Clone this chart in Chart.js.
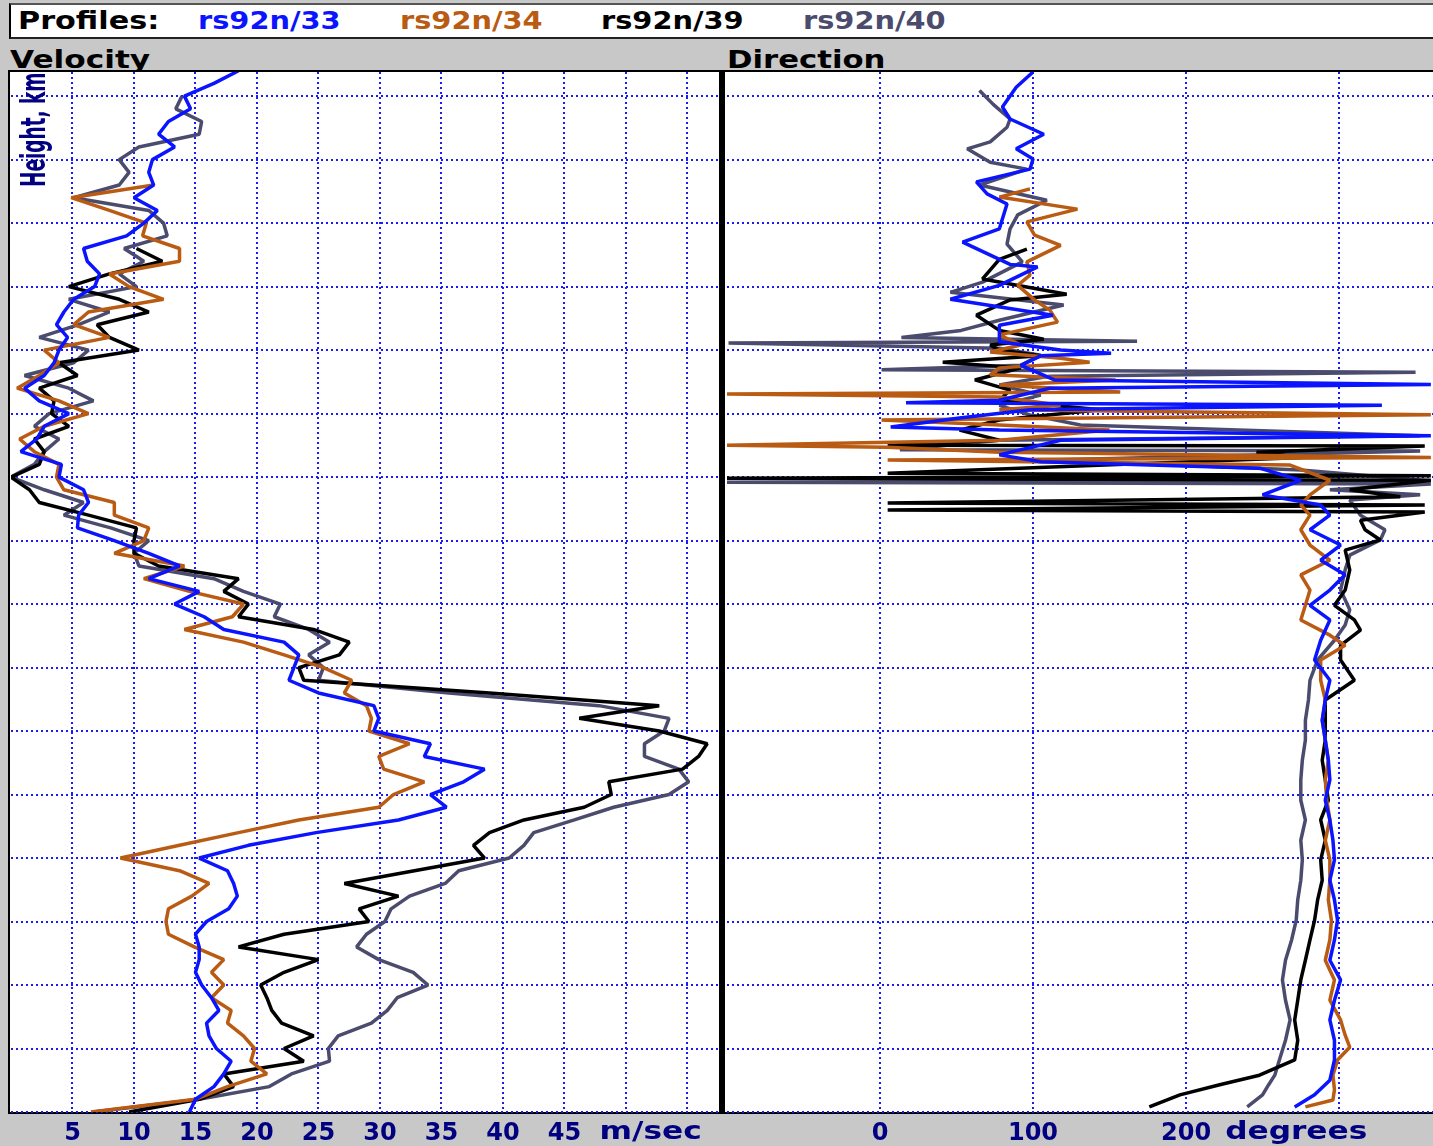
<!DOCTYPE html>
<html>
<head>
<meta charset="utf-8">
<title>Profiles rs92n</title>
<script src="https://cdn.jsdelivr.net/npm/chart.js@4.4.1/dist/chart.umd.min.js"></script>
<style>
  html, body { margin: 0; padding: 0; }
  body {
    width: 1433px; height: 1146px; position: relative; overflow: hidden;
    background: #c8c8c8; font-family: 'DejaVu Sans', sans-serif; font-weight: bold;
  }
  .txt {
    position: absolute; font-size: 24px; line-height: 24px; white-space: nowrap;
    transform-origin: 0 50%;
  }
  #legendBox {
    position: absolute; left: 9px; top: 3px; width: 1430px; height: 32px; background: #fff;
    border-top: 2px solid #555; border-left: 2px solid #000; border-bottom: 2px solid #222;
  }
  #plotFrame {
    position: absolute; left: 8px; top: 70px; width: 1430px; height: 1040px; background: #fff;
    border-top: 2px solid #000; border-left: 2px solid #000; border-bottom: 2px solid #000;
  }
  #divider { position: absolute; left: 719px; top: 72px; width: 6px; height: 1040px; background: #000; }
  canvas { position: absolute; top: 72px; }
</style>
</head>
<body>
<div id="legendBox"></div>
<div class="txt" style="left:18px; top:9px; color:#000; transform:scaleX(1.26)">Profiles:</div>
<div class="txt" style="left:10px; top:48px; color:#000; transform:scaleX(1.3)">Velocity</div>
<div class="txt" style="left:727px; top:48px; color:#000; transform:scaleX(1.28)">Direction</div>
<div id="plotFrame"></div>
<canvas id="velocityChart" width="707" height="1074" style="left:11px"></canvas>
<div id="divider"></div>
<canvas id="directionChart" width="706" height="1074" style="left:727px"></canvas>

<script>
// heights of the velocity samples, km
const heightKm = [
  0.0, 0.2, 0.4, 0.6, 0.8, 1.0, 1.2, 1.4, 1.6, 1.8,
  2.0, 2.2, 2.4, 2.6, 2.8, 3.0, 3.2, 3.4, 3.6, 3.8,
  4.0, 4.2, 4.4, 4.6, 4.8, 5.0, 5.2, 5.4, 5.6, 5.8,
  6.0, 6.2, 6.4, 6.6, 6.8, 7.0, 7.2, 7.4, 7.6, 7.8,
  8.0, 8.2, 8.4, 8.6, 8.8, 9.0, 9.2, 9.4, 9.6, 9.8,
  10.0, 10.2, 10.4, 10.6, 10.8, 11.0, 11.2, 11.4, 11.6, 11.8,
  12.0, 12.2, 12.4, 12.6, 12.8, 13.0, 13.2, 13.4, 13.6, 13.8,
  14.0, 14.2, 14.4, 14.6, 14.8, 15.0, 15.2, 15.4, 15.6, 15.8,
  16.0, 16.2, 16.4
];

// wind speed, m/s (null = above the top of the sounding)
const velocity33 = [
  14.5, 15.0, 16.5, 17.3, 17.9, 16.7, 16.1, 15.9, 16.9, 16.3,
  15.5, 15.0, 15.3, 15.3, 15.0, 15.9, 17.7, 18.4, 18.1, 17.6,
  15.3, 19.3, 24.8, 31.5, 35.4, 34.1, 36.8, 38.5, 33.6, 34.1,
  29.5, 29.9, 29.5, 25.0, 22.6, 23.0, 23.4, 22.2, 17.3, 15.7,
  13.3, 15.3, 11.2, 13.7, 11.2, 8.4, 5.4, 5.5, 6.3, 5.9,
  3.9, 4.1, 0.8, 2.1, 2.7, 4.7, 2.3, 1.1, 2.7, 3.5,
  3.9, 4.6, 3.7, 4.3, 5.1, 6.8, 7.2, 6.2, 5.9, 9.4,
  10.8, 11.9, 10.0, 11.6, 11.2, 11.5, 13.3, 12.0, 12.8, 14.6,
  14.1, 16.5, 18.5
];
const velocity34 = [
  6.5, 15.0, 17.6, 20.8, 19.5, 19.8, 18.9, 17.6, 17.9, 16.3,
  17.3, 16.3, 17.3, 14.9, 12.8, 12.6, 12.8, 14.7, 16.1, 13.7,
  8.9, 13.7, 18.5, 23.4, 29.9, 31.1, 33.6, 30.3, 29.9, 32.4,
  29.1, 29.3, 28.9, 27.1, 27.7, 25.4, 22.2, 18.9, 14.1, 18.0,
  18.9, 14.5, 10.8, 14.1, 8.4, 10.8, 11.2, 8.4, 8.4, 4.3,
  3.7, 3.9, 1.9, 0.7, 2.7, 6.3, 3.9, 0.5, 2.3, 3.9,
  2.7, 8.0, 5.1, 6.3, 12.4, 9.6, 8.0, 13.7, 13.7, 10.7,
  11.0, 8.0, 4.9, 11.6, null, null, null, null, null, null,
  null, null, null
];
const velocity39 = [
  9.6, 15.3, 18.1, 17.3, 23.8, 22.2, 24.6, 22.0, 21.2, 20.8,
  20.3, 22.2, 25.0, 18.5, 22.2, 29.1, 28.3, 31.5, 27.1, 32.8,
  38.5, 37.6, 38.9, 41.7, 46.6, 48.8, 48.6, 54.6, 55.9, 56.6,
  52.7, 46.2, 52.7, 38.9, 23.8, 23.4, 26.7, 27.5, 24.6, 18.5,
  19.3, 17.3, 18.5, 12.0, 10.0, 10.0, 10.2, 6.3, 2.3, 1.5,
  0.0, 2.3, 2.7, 1.9, 4.7, 3.3, 3.5, 2.3, 5.4, 3.9,
  10.4, 8.0, 7.0, 11.2, 8.8, 4.7, 8.0, 12.3, 10.2, null,
  null, null, null, null, null, null, null, null, null, null,
  null, null, null
];
const velocity40 = [
  6.7, 15.3, 21.0, 22.8, 25.9, 25.8, 26.6, 29.3, 30.6, 31.4,
  33.9, 32.7, 29.9, 28.1, 28.9, 30.4, 30.9, 32.4, 35.3, 36.4,
  40.5, 41.7, 42.5, 45.8, 49.0, 53.5, 55.1, 54.3, 51.5, 51.5,
  53.1, 53.5, 47.8, 35.6, 25.0, 25.4, 24.2, 25.9, 24.2, 21.4,
  21.9, 18.9, 16.5, 10.4, 10.0, 11.2, 8.1, 4.3, 5.9, 2.7,
  0.0, 1.9, 2.7, 3.9, 1.9, 3.1, 6.7, 4.7, 1.1, 5.1,
  6.3, 2.3, 5.5, 8.0, 4.7, 10.2, 8.8, 10.8, 9.2, 12.7,
  12.4, 11.2, 5.1, 8.8, 9.6, 8.8, 10.4, 15.3, 15.5, 13.4,
  13.9, null, null
];

// wind direction, degrees, with its own height samples per sounding
const dirHeight33 = [
  16.38, 16.14, 15.83, 15.64, 15.40, 15.17, 15.01, 14.85, 14.65, 14.46, 14.30, 13.91, 13.70,
  13.35, 13.31, 13.02, 12.80, 12.55, 12.39, 12.13, 12.00, 11.95, 11.91, 11.76, 11.53, 11.46,
  11.40, 11.21, 11.17, 11.13, 11.06, 10.93, 10.79, 10.74, 10.65, 10.58, 10.35, 10.24, 10.14,
  9.95, 9.72, 9.56, 9.40, 9.17, 8.93, 8.69, 8.46, 8.22, 7.98, 7.75, 7.43, 7.12, 6.80, 6.49,
  6.17, 5.86, 5.54, 5.23, 4.91, 4.60, 4.28, 3.97, 3.65, 3.34, 3.02, 2.71, 2.39, 2.08, 1.76,
  1.45, 1.13, 0.82, 0.50, 0.27, 0.08
];
const direction33 = [
  100, 89, 80, 85, 107, 89, 100, 98, 63, 70, 83, 78, 54,
  85, 103, 78, 46, 113, 78, 78, 118, 151, 105, 92, 114, 360,
  111, 78, 17, 328, 98, 52, 7, 78, 360, 118, 78, 105, 248,
  275, 250, 288, 294, 281, 301, 288, 304, 294, 281, 294, 288, 284, 294, 291,
  289, 291, 293, 294, 291, 294, 296, 297, 294, 297, 299, 297, 294, 301, 297,
  294, 297, 297, 294, 284, 271
];
const dirHeight34 = [
  14.54, 14.41, 14.22, 14.02, 13.81, 13.65, 13.39, 13.18, 13.02, 12.79, 12.63, 12.44, 12.24,
  12.08, 11.97, 11.87, 11.81, 11.72, 11.61, 11.53, 11.45, 11.34, 11.31, 11.26, 11.13, 11.06,
  10.98, 10.90, 10.82, 10.74, 10.58, 10.50, 10.47, 10.39, 10.31, 10.27, 10.19, 9.95, 9.72,
  9.56, 9.40, 9.17, 8.93, 8.69, 8.46, 8.22, 7.98, 7.75, 7.51, 7.35, 7.12, 6.80, 6.49, 6.17,
  5.86, 5.54, 5.23, 4.91, 4.60, 4.28, 3.97, 3.65, 3.34, 3.02, 2.71, 2.39, 2.08, 1.76, 1.45,
  1.21, 1.02, 0.82, 0.58, 0.35, 0.19, 0.08
];
const direction34 = [
  98, 78, 129, 96, 101, 118, 96, 98, 90, 101, 111, 116, 78,
  92, 72, 118, 137, 78, 72, 154, 78, 157, -100, 78, 118, 78,
  360, 1, 78, 150, 78, -100, 5, 78, 360, 5, 268, 294, 281,
  275, 281, 275, 281, 294, 275, 281, 278, 275, 294, 304, 288, 288, 291, 289,
  291, 293, 291, 292, 294, 291, 294, 294, 293, 295, 294, 291, 297, 294, 301,
  304, 307, 299, 296, 297, 296, 278
];
const dirHeight39 = [
  13.59, 13.43, 13.12, 12.88, 12.79, 12.55, 12.31, 12.17, 12.08, 12.00, 11.91, 11.81, 11.72,
  11.53, 11.37, 11.21, 11.06, 10.90, 10.74, 10.58, 10.50, 10.49, 10.39, 10.31, 10.06, 10.02,
  9.98, 9.95, 9.80, 9.69, 9.59, 9.56, 9.48, 9.45, 9.32, 9.17, 9.01, 8.85, 8.54, 8.22, 7.98,
  7.75, 7.59, 7.35, 7.12, 6.80, 6.49, 6.17, 5.86, 5.54, 5.23, 4.91, 4.60, 4.28, 3.97, 3.65,
  3.34, 3.02, 2.71, 2.39, 2.08, 1.76, 1.45, 1.13, 0.82, 0.58, 0.43, 0.27, 0.08
];
const direction39 = [
  96, 78, 67, 122, 85, 63, 78, 107, 72, 78, 105, 41, 92,
  62, 85, 78, 144, 78, 52, 78, 5, 356, 246, 276, 5, 360,
  -100, 360, 307, 340, 5, 356, 5, 356, 314, 317, 327, 304, 307, 304, 297,
  310, 314, 301, 301, 310, 291, 291, 291, 289, 291, 293, 288, 291, 288, 289,
  286, 284, 281, 278, 275, 273, 271, 273, 271, 248, 222, 196, 176
];
const dirHeight40 = [
  16.09, 15.87, 15.64, 15.51, 15.28, 15.17, 14.96, 14.85, 14.60, 14.36, 14.13, 13.91, 13.67,
  13.39, 13.07, 12.91, 12.71, 12.47, 12.31, 12.20, 12.14, 12.11, 12.03, 11.92, 11.76, 11.69,
  11.65, 11.59, 11.45, 11.29, 11.13, 10.98, 10.82, 10.65, 10.58, 10.43, 10.41, 10.27, 10.11,
  9.94, 9.92, 9.89, 9.80, 9.72, 9.64, 9.40, 9.17, 9.01, 8.77, 8.54, 8.22, 7.91, 7.67, 7.43,
  7.12, 6.80, 6.49, 6.17, 5.86, 5.54, 5.23, 4.91, 4.60, 4.28, 3.97, 3.65, 3.34, 3.02, 2.71,
  2.39, 2.08, 1.76, 1.45, 1.13, 0.82, 0.58, 0.43, 0.27, 0.08
];
const direction40 = [
  65, 74, 85, 83, 72, 57, 72, 96, 65, 109, 90, 85, 83,
  93, 67, 46, 120, 78, 53, 14, 168, -99, 78, 105, 92, 1,
  350, 111, 78, 105, 78, 98, 131, 353, 78, 13, 353, 111, 275,
  360, -100, 360, 294, 353, 307, 314, 330, 327, 307, 304, 301, 307, 304, 297,
  286, 281, 280, 278, 278, 276, 275, 275, 278, 275, 276, 275, 273, 272, 269,
  265, 263, 265, 268, 265, 261, 258, 254, 250, 240
];

// axis ticks
const heightTicks = [0, 1, 2, 3, 4, 5, 6, 7, 8, 9, 10, 11, 12, 13, 14, 15, 16];
const velocityTicks = [5, 10, 15, 20, 25, 30, 35, 40, 45, 50, 55];
const velocityTickLabels = ['5', '10', '15', '20', '25', '30', '35', '40', '45', '', ''];
const directionTicks = [0, 100, 200, 300];
const directionTickLabels = ['0', '100', '200', ''];

const profiles = [
  { name: 'rs92n/33', color: '#0a14ff', vel: velocity33, dirH: dirHeight33, dir: direction33 },
  { name: 'rs92n/34', color: '#b95b12', vel: velocity34, dirH: dirHeight34, dir: direction34 },
  { name: 'rs92n/39', color: '#000000', vel: velocity39, dirH: dirHeight39, dir: direction39 },
  { name: 'rs92n/40', color: '#4b4b6e', vel: velocity40, dirH: dirHeight40, dir: direction40 }
];

// legend strip along the top
profiles.forEach((p, i) => {
  const el = document.createElement('div');
  el.className = 'txt';
  el.textContent = p.name;
  el.style.left = (198 + i * 201.7) + 'px';
  el.style.top = '9px';
  el.style.color = p.color;
  el.style.transform = 'scaleX(1.2)';
  document.body.appendChild(el);
});

Chart.defaults.font.family = "'DejaVu Sans', sans-serif";
const NAVY = '#000080';
const GRID = '#1a1aff';

// unit word under the axis and the rotated height title
const panelText = {
  id: 'panelText',
  afterDraw(chart, args, opts) {
    const { ctx, chartArea, scales } = chart;
    ctx.save();
    ctx.fillStyle = NAVY;
    ctx.font = "bold 24px 'DejaVu Sans'";
    ctx.textAlign = 'center';
    ctx.textBaseline = 'middle';
    ctx.translate(scales.x.getPixelForValue(opts.unitAt), chartArea.bottom + 21);
    ctx.scale(1.3, 1);
    ctx.fillText(opts.unit, 0, 0);
    ctx.restore();
    if (opts.heightTitle) {
      ctx.save();
      ctx.fillStyle = NAVY;
      ctx.font = "bold 33px 'DejaVu Sans'";
      ctx.textAlign = 'left';
      ctx.textBaseline = 'alphabetic';
      ctx.translate(chartArea.left + 34, chartArea.top + 115);
      ctx.rotate(-Math.PI / 2);
      ctx.scale(0.56, 1);
      ctx.fillText(opts.heightTitle, 0, 0);
      ctx.restore();
    }
  }
};

function heightAxis() {
  return {
    type: 'linear', min: 0, max: 16.38,
    afterBuildTicks: s => { s.ticks = heightTicks.map(v => ({ value: v })); },
    ticks: { display: false },
    grid: { color: GRID, lineWidth: 2, drawTicks: false },
    border: { display: false, dash: [2, 3] }
  };
}

function bottomAxis(min, max, ticks, labels) {
  return {
    type: 'linear', position: 'bottom', min, max,
    afterBuildTicks: s => { s.ticks = ticks.map(v => ({ value: v })); },
    afterFit: s => { s.height = 34; },
    ticks: {
      autoSkip: false, maxRotation: 0, padding: 7, color: NAVY,
      font: { size: 24, weight: 'bold' },
      callback: (v, i) => labels[i]
    },
    grid: { color: GRID, lineWidth: 2, drawTicks: false },
    border: { display: false, dash: [2, 3] }
  };
}

function lineStyle(p) {
  return {
    label: p.name, borderColor: p.color, backgroundColor: p.color,
    showLine: true, pointRadius: 0, borderWidth: 3.5, borderJoinStyle: 'bevel', tension: 0
  };
}

function baseOptions(xAxis, text) {
  return {
    responsive: false, animation: false, events: [],
    layout: { padding: 0 },
    plugins: { legend: { display: false }, tooltip: { enabled: false }, panelText: text },
    scales: { x: xAxis, y: heightAxis() }
  };
}

new Chart(document.getElementById('velocityChart'), {
  type: 'scatter',
  data: {
    datasets: profiles.map(p => Object.assign(lineStyle(p), {
      data: heightKm.map((h, i) => ({ x: p.vel[i], y: h })).filter(pt => pt.x !== null)
    }))
  },
  options: baseOptions(
    bottomAxis(0, 57.48, velocityTicks, velocityTickLabels),
    { unit: 'm/sec', unitAt: 52, heightTitle: 'Height, km' }
  ),
  plugins: [panelText]
});

new Chart(document.getElementById('directionChart'), {
  type: 'scatter',
  data: {
    datasets: profiles.map(p => Object.assign(lineStyle(p), {
      data: p.dirH.map((h, i) => ({ x: p.dir[i], y: h }))
    }))
  },
  options: baseOptions(
    bottomAxis(-100, 361.4, directionTicks, directionTickLabels),
    { unit: 'degrees', unitAt: 272 }
  ),
  plugins: [panelText]
});
</script>
</body>
</html>
